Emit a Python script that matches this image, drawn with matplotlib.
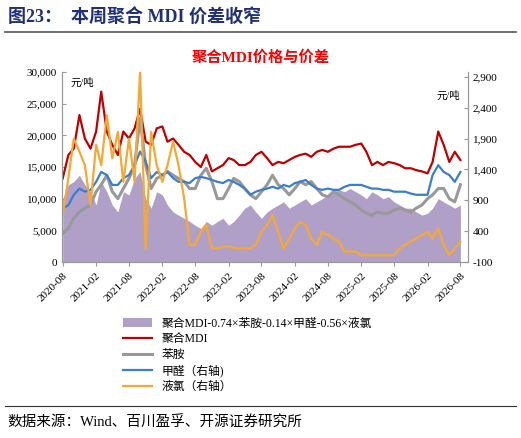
import numpy as np
import pandas as pd
import matplotlib
matplotlib.use('Agg')
import matplotlib.pyplot as plt
import matplotlib.dates as mdates
from matplotlib.ticker import FuncFormatter

plt.rcParams['font.family'] = ['Liberation Serif', 'Noto Sans CJK SC', 'DejaVu Sans']

dates = pd.date_range('2020-08-01', periods=73, freq='MS')

mdi = [13200, 16900, 17900, 23200, 19500, 17900, 20600, 26900, 20600, 18500, 16900, 20600,
       19500, 21100, 24200, 19000, 18500, 21100, 21400, 19000, 19500, 18500, 17400, 16900,
       15800, 15000, 16900, 14300, 14800, 15300, 16400, 16100, 15300, 15300, 15800, 16900,
       17400, 16400, 15300, 15800, 15600, 16100, 16600, 16900, 17100, 16600, 17400, 17700,
       17400, 17900, 18200, 18200, 18200, 18500, 18700, 17400, 15300, 15800, 15300, 15800,
       15600, 15300, 14800, 14800, 14500, 14300, 14000, 15800, 20600, 18500, 15800, 17400, 16100]
aniline = [4500, 5300, 6900, 7900, 8500, 9000, 11100, 12200, 13700, 11100, 10000, 11600,
           13200, 15300, 22700, 15300, 11600, 13200, 13700, 14300, 13700, 13200, 12700, 11600,
           11600, 13700, 14800, 12700, 10000, 10000, 11600, 13200, 12700, 11600, 10600, 10000,
           11100, 12200, 13700, 12200, 11600, 10600, 11600, 12700, 12200, 12700, 11600, 10600,
           10300, 11100, 10600, 10000, 9500, 9000, 8200, 7700, 7400, 7900, 7700, 7700,
           8200, 8500, 8200, 7900, 8500, 9000, 10000, 10600, 11600, 11600, 10000, 9500, 12200]
formaldehyde = [770, 820, 990, 1090, 1040, 1070, 1200, 1360, 1310, 1150, 1150, 1260,
                1310, 1470, 1690, 1530, 1260, 1360, 1310, 1360, 1260, 1200, 1200, 1180,
                1260, 1280, 1260, 1230, 1200, 1180, 1230, 1200, 1150, 1090, 990, 1040,
                1070, 1090, 1120, 1090, 1150, 1120, 1180, 1200, 1230, 1150, 1090, 1070,
                1090, 1070, 1070, 1120, 1150, 1150, 1150, 1120, 1090, 1090, 1070, 1070,
                1040, 1040, 1040, 1010, 990, 990, 990, 1310, 1470, 1360, 1310, 1200, 1360]
chlorine = [660, 1260, 1900, 1690, 1470, 820, 1800, 1470, 2280, 1580, 2010, 1200,
            1900, 1200, 2990, 120, 2010, 1470, 1200, 1470, 1850, 1470, 930, 180,
            180, 390, 500, 120, 120, 150, 150, 130, 120, 120, 120, 180,
            390, 500, 660, 390, 120, 280, 450, 550, 500, 280, 180, 390,
            340, 280, 230, 70, 70, 70, 10, 10, 10, 10, 10, 10,
            10, 120, 180, 230, 280, 340, 390, 280, 450, 180, 10, 120, 230]
spread = [10000, 12200, 12700, 13700, 12200, 11100, 9000, 12700, 11100, 9000, 7900, 11100,
          10600, 13200, 14300, 10000, 8500, 11100, 10600, 9000, 7900, 7400, 6900, 6400,
          5800, 5300, 6400, 5800, 6400, 6900, 5800, 6400, 7400, 8500, 9000, 7900,
          6900, 7900, 8500, 9000, 9500, 8500, 9000, 9500, 10000, 9000, 9500, 10000,
          10600, 11100, 11400, 11100, 11600, 11100, 10600, 10000, 11100, 10600, 10000, 10300,
          9500, 9000, 8500, 8500, 7900, 7400, 7700, 8500, 10000, 9500, 9000, 8500, 9000]

fig = plt.figure(figsize=(5.21, 4.38), dpi=100)
ax = fig.add_axes([62/521, 1-262/438, 406/521, 190/438])
ax2 = ax.twinx()

p_spread = ax.fill_between(dates, spread, color='#b0a0c8', lw=0,
                           label='聚合MDI-0.74×苯胺-0.14×甲醛-0.56×液氯')
l_mdi, = ax.plot(dates, mdi, color='#c00000', lw=1.6, label='聚合MDI')
l_ani, = ax.plot(dates, aniline, color='#999999', lw=2.2, label='苯胺')
l_fm, = ax2.plot(dates, formaldehyde, color='#3a7fcf', lw=1.6, label='甲醛（右轴)')
l_cl, = ax2.plot(dates, chlorine, color='#f5a833', lw=1.6, label='液氯（右轴）')

ax.set_ylim(0, 30000)
ax.set_yticks(np.arange(0, 30001, 5000))
ax.yaxis.set_major_formatter(FuncFormatter(lambda v, p: '{:,.0f}'.format(v)))
ax2.set_ylim(-100, 2981)
ax2.set_yticks(np.arange(-100, 2901, 500))
ax2.yaxis.set_major_formatter(FuncFormatter(lambda v, p: '{:,.0f}'.format(v)))
ax.set_xlim(pd.Timestamp('2020-07-28'), pd.Timestamp('2026-09-12'))
ax.xaxis.set_major_locator(mdates.MonthLocator(bymonth=[2, 8]))
ax.xaxis.set_major_formatter(mdates.DateFormatter('%Y-%m'))
for lab in ax.get_xticklabels():
    lab.set_rotation(45)
    lab.set_ha('right')
    lab.set_rotation_mode('anchor')

for a in (ax, ax2):
    a.tick_params(labelsize=8, length=3, color='#999999', direction='in')
    a.spines['top'].set_visible(False)
    for s in ('left', 'right', 'bottom'):
        a.spines[s].set_color('#999999')
ax.tick_params(axis='x', direction='out')

ax.text(0.02, 0.97, '元/吨', transform=ax.transAxes, fontsize=7.5, va='top')
ax2.text(0.98, 0.9, '元/吨', transform=ax.transAxes, fontsize=7.5, va='top', ha='right')

fig.text(0.5, 1-58/438, '聚合MDI价格与价差', color='#ff0000', fontsize=11,
         fontweight='bold', ha='center', va='center')
fig.text(0.015, 1-18/438, '图23：  本周聚合 MDI 价差收窄', color='#1f2f7a', fontsize=13,
         fontweight='bold', ha='left', va='center')
fig.add_artist(plt.Line2D([0.01, 0.99], [1-32/438, 1-32/438], color='#555555', lw=1.2))
fig.add_artist(plt.Line2D([0.01, 0.99], [1-406/438, 1-406/438], color='#333333', lw=0.8))
fig.text(0.015, 1-423/438, '数据来源：Wind、百川盈孚、开源证券研究所', fontsize=10.5,
         ha='left', va='center')

fig.legend(handles=[p_spread, l_mdi, l_ani, l_fm, l_cl], loc='upper left',
           bbox_to_anchor=(118/521, 1-313/438), frameon=False, fontsize=8.5,
           handlelength=2.5, labelspacing=0.3, borderaxespad=0)

fig.savefig('out.png', dpi=100)
